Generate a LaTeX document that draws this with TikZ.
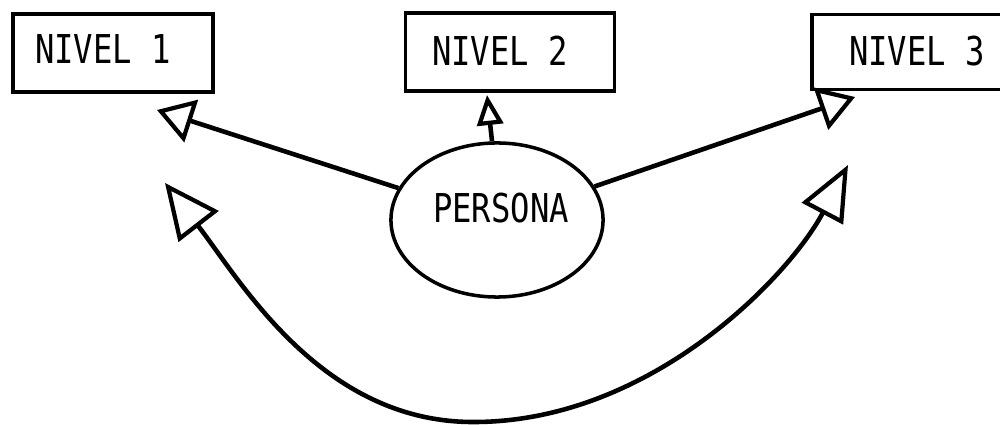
\documentclass[tikz,border=0pt]{standalone}
\usepackage{fontspec}
\usepackage{graphicx}
\newfontfamily\typew{DejaVu Sans Mono}
\usetikzlibrary{arrows.meta,shapes.geometric}
\begin{document}
\begin{tikzpicture}[x=0.01cm,y=-0.01cm,
  box/.style={draw, line width=1pt, minimum width=2cm, minimum height=0.78cm, inner sep=0pt},
  lbl/.style={font={\typew\fontsize{11.3}{13}\selectfont}, inner sep=0pt},
  persona/.style={draw, ellipse, line width=1pt, minimum width=2.12cm, minimum height=1.54cm, inner sep=0pt},
  conn/.style={line width=1.3pt},
  tipsmall/.style={-{Triangle[open,length=0.36cm,width=0.44cm,line width=1.2pt]}},
  tipmid/.style={-{Triangle[open,length=0.3cm,width=0.26cm,line width=1.2pt]}},
  tipbig/.style={{Triangle[open,length=0.55cm,width=0.5cm,line width=1.2pt]}-{Triangle[open,length=0.55cm,width=0.46cm,line width=1.2pt]}}]
\useasboundingbox (0,0) rectangle (1000,425);
\clip (0,0) rectangle (1000,425);
% boxes
\node[box] (b1) at (113,53) {};
\node[box, minimum width=2.09cm] (b2) at (510,52) {};
\node[box, minimum width=2.1cm, minimum height=0.75cm] (b3) at (917,52) {};
\node[lbl] (l1) at (103,49) {\scalebox{0.81}[1]{NIVEL 1}};
\node[lbl] (l2) at (500,51) {\scalebox{0.81}[1]{NIVEL 2}};
\node[lbl] (l3) at (917,51) {\scalebox{0.81}[1]{NIVEL 3}};
% persona
\node[persona] (p) at (497,220) {};
\node[lbl] (lp) at (501,208) {\scalebox{0.81}[1]{PERSONA}};
% arrow tips
\coordinate (t1) at (157,110);
\coordinate (t2) at (487,95);
\coordinate (t3) at (855,97);
\draw[conn, tipsmall] (p) -- (t1);
\draw[conn, tipmid] (p.north) ++(-5,0) coordinate (pn) (pn) -- (t2);
\draw[conn, tipsmall] (p) -- (t3);
% curved double arrow
\coordinate (ca) at (165,183);
\coordinate (cb) at (470,422);
\coordinate (cc) at (848,165);
\draw[conn, tipbig] (ca) .. controls (240,280) and (320,420) .. (cb) .. controls (650,424) and (790,275) .. (cc);
\end{tikzpicture}
\end{document}
